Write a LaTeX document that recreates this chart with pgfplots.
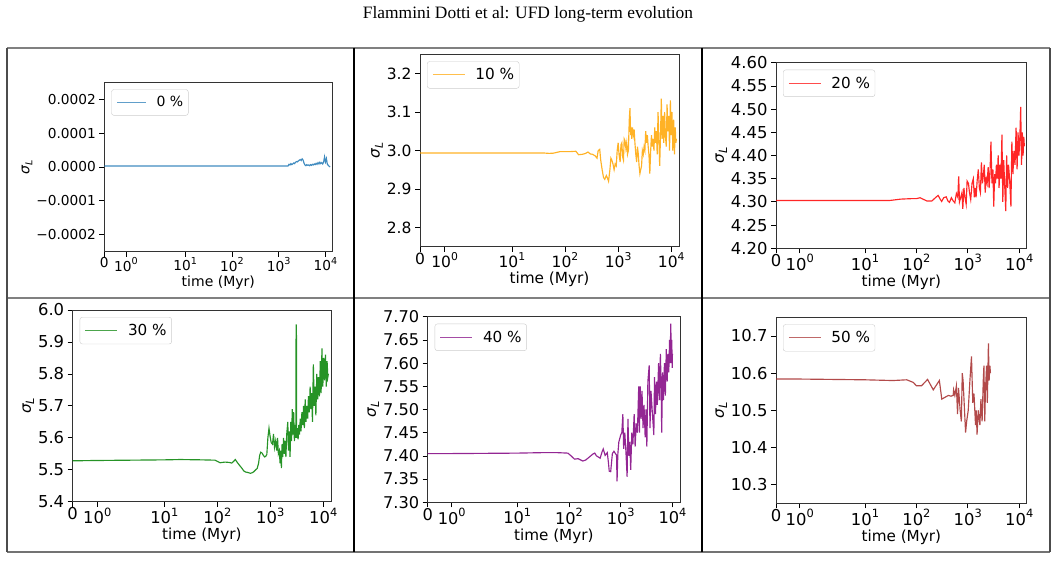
\documentclass[border=0pt]{standalone}
\usepackage{fontspec}
\setmainfont{DejaVu Sans}
\newfontfamily\titlefont{Liberation Serif}
\usepackage{pgfplots}
\pgfplotsset{compat=1.18}
\definecolor{mblue}{HTML}{1F77B4}
\definecolor{morange}{HTML}{FFA500}
\definecolor{mred}{HTML}{FF0000}
\definecolor{mgreen}{HTML}{008000}
\definecolor{mpurple}{HTML}{800080}
\definecolor{mbrown}{HTML}{A52A2A}
% symlog-like time axis: linear below 2.4 Myr, logarithmic above
\newcommand\symlog[1]{\begingroup\pgfkeys{/pgf/fpu=true,/pgf/fpu/output format=fixed}%
\pgfmathparse{min(#1,2.4)*1.111/2.4+ln(max(#1,2.4)/2.4)/2.302585}\pgfmathsmuggle\pgfmathresult\endgroup}
\def\supsz{10}
\def\subsz{10}
\newcommand\tp[1]{10\raisebox{0.45em}{\fontsize{\supsz}{\supsz}\selectfont #1}}
\newcommand\sigL{{\itshape σ\raisebox{-0.22em}{\fontsize{\subsz}{\subsz}\selectfont L}}}
\pgfplotsset{
  panel/.style={
    scale only axis, anchor=south west,
    x coord trafo/.code={\symlog{##1}},
    xmin=0, xmax=14000,
    xtick={0,1,10,100,1000,10000},
    xticklabels={0,\tp{0},\tp{1},\tp{2},\tp{3},\tp{4}},
    axis line style={draw=black!80, line width=0.8pt},
    tick align=outside, xtick pos=bottom, ytick pos=left,
    major tick length=5pt,
    every tick/.style={black, line width=0.8pt},
    minor tick num=0,
    /pgf/number format/assume math mode=true,
    /pgf/number format/fixed, /pgf/number format/fixed zerofill,
    scaled y ticks=false,
    xlabel={time (Myr)}, ylabel={\sigL},
    xticklabel style={yshift=2.5pt},
    xlabel style={yshift=2.5pt},
    ylabel style={yshift=-3pt},
    legend style={at={(rel axis cs:0,1)}, anchor=north west, xshift=7pt, yshift=-7pt,
      draw=black!20, rounded corners=2.5pt, fill=white,
      inner xsep=3pt, inner ysep=5pt},
    legend cell align=left,
    every axis plot/.append style={line width=1.15pt, mark=none, draw opacity=0.85},
  },
  fonts/.style n args={4}{
    tick label style={font=\def\supsz{#4}\fontsize{#1}{#1}\selectfont},
    label style={font=\def\subsz{#4}\fontsize{#2}{#2}\selectfont},
    legend style={font=\fontsize{#2}{#2}\selectfont},
    legend image code/.code={\draw[##1, line width=1.15pt, draw opacity=0.7] (0pt,0pt) -- (#3pt,0pt); \path (-2pt,0pt) (#3pt+8pt,0pt);},
  },
}
\begin{document}
\begin{tikzpicture}[x=1pt,y=1pt]
\path[use as bounding box] (0,0) rectangle (1057,560);
\node[font=\titlefont\fontsize{17.4}{20}\selectfont] at (528,546) {Flammini Dotti et al: UFD long-term evolution};
% table frame
\draw[black!50, line width=1.5pt] (7,512) -- (1050,512);
\draw[black!50, line width=1.5pt] (7,262) -- (1050,262);
\draw[black!55, line width=1.5pt] (7,8) -- (1050,8);
\draw[black!70, line width=1.2pt] (7,512) -- (7,8);
\draw[black!70, line width=1.2pt] (1050,512) -- (1050,8);
\draw[black, line width=1.1pt] (354,512) -- (354,8);
\draw[black, line width=1.1pt] (702,512) -- (702,8);

% ---- Panel 1: 0 %
\begin{axis}[panel, fonts={13.7}{14}{29}{9.6}, at={(104.3pt,308.3pt)}, width=228pt, height=169.4pt,
  ymin=-0.00025, ymax=0.00025,
  ytick={-0.0002,-0.0001,0,0.0001,0.0002},
  yticklabels={−0.0002,−0.0001,0.0000,0.0001,0.0002}]
\addplot[mblue] coordinates {
(0,0.000003) (1,0.000003) (10,0.000003) (100,0.000003) (1000,0.000003) (1585,0.000003)
(1660,0.000008) (1738,0.000006) (1820,0.000010) (1905,0.000007) (1995,0.000009)
(2089,0.000012) (2188,0.000010) (2291,0.000014) (2399,0.000016) (2512,0.000015)
(2630,0.000018) (2754,0.000020) (2884,0.000022) (3020,0.000019) (3162,0.000024)
(3311,0.000021) (3467,0.000012) (3631,0.000006) (3802,0.000004) (3981,0.000007)
(4169,0.000005) (4365,0.000006) (4571,0.000004) (4786,0.000007) (5012,0.000005)
(5248,0.000008) (5495,0.000006) (5754,0.000009) (6026,0.000007) (6310,0.000011)
(6607,0.000008) (6918,0.000013) (7244,0.000009) (7586,0.000014) (7943,0.000010)
(8318,0.000013) (8710,0.000009) (9120,0.000014) (9550,0.000030) (10000,0.000015)
(10471,0.000025) (10965,0.000008) (11482,0.000005) (12023,0.000002) (12589,0.000000)
};
\addlegendentry{0 \%}
\node[anchor=south west, font=\fontsize{6}{6}\selectfont, inner sep=1pt] at (rel axis cs:0,1) {+1};
\end{axis}

% ---- Panel 2: 10 %
\begin{axis}[panel, fonts={15.5}{15.3}{32}{10.8}, at={(420pt,313.3pt)}, width=259pt, height=192.4pt,
  ymin=2.75, ymax=3.25, ytick={2.8,2.9,3.0,3.1,3.2},
  /pgf/number format/precision=1]
\addplot[morange] coordinates {
(0,2.9935) (1,2.9935) (10,2.9935) (40,2.9935) (50,2.9925) (60,2.993) (80,2.997) (120,2.997)
(160,2.998) (180,2.989) (210,2.990) (240,2.992) (270,2.996) (300,2.991) (330,2.990) (370,2.986)
(400,2.980) (420,2.999) (450,3.003) (470,2.975) (500,2.950) (530,2.930) (560,2.925) (600,2.935)
(630,2.928) (660,2.920) (700,2.950) (730,2.980) (760,2.975) (800,2.965) (840,2.950) (880,2.965)
(920,2.960) (960,3.000) (1000,3.020) (1040,2.990) (1090,2.970) (1130,3.015) (1175,3.020)
(1210,2.985) (1260,2.975) (1300,3.030) (1350,3.025) (1400,3.005) (1450,3.020) (1500,2.990)
(1560,3.000) (1620,3.080) (1670,3.110) (1720,3.040) (1770,3.060) (1800,3.030) (1860,3.060)
(1930,3.040) (2000,3.055) (2070,3.020) (2150,2.990) (2230,2.970) (2310,3.010) (2400,2.990)
(2480,2.960) (2570,2.940) (2660,2.950) (2760,2.960) (2860,3.000) (2970,2.990) (3080,3.010)
(3190,3.000) (3300,3.050) (3430,3.020) (3550,3.040) (3680,3.010) (3800,2.990) (3950,2.940)
(4100,3.000) (4240,3.040) (4400,3.010) (4560,3.030) (4720,3.000) (4890,3.060) (5060,3.020)
(5250,3.050) (5440,2.990) (5640,3.100) (5850,3.030) (6060,2.960) (6280,3.040) (6500,3.135)
(6740,3.030) (6980,3.090) (7240,3.020) (7500,3.100) (7760,3.040) (8050,3.010) (8340,3.120)
(8650,3.050) (8960,3.090) (9290,3.000) (9630,3.130) (9970,3.040) (10330,3.100) (10700,3.000)
(11100,3.080) (11500,2.990) (11900,3.060) (12200,3.020) (12500,3.030)
};
\addlegendentry{10 \%}
\end{axis}

% ---- Panel 3: 20 %
\begin{axis}[panel, fonts={16.4}{15.2}{32}{11.4}, at={(776pt,311.7pt)}, width=250.7pt, height=185.6pt,
  ymin=4.2, ymax=4.6, ytick={4.20,4.25,...,4.61},
  /pgf/number format/precision=2]
\addplot[mred] coordinates {
(0,4.303) (1,4.303) (10,4.303) (30,4.303) (50,4.306) (80,4.307) (100,4.307) (118,4.309)
(140,4.305) (160,4.302) (200,4.302) (240,4.310) (265,4.314) (290,4.306) (310,4.301) (340,4.309)
(380,4.311) (410,4.302) (440,4.299) (480,4.309) (520,4.302) (560,4.298) (600,4.318) (640,4.310)
(665,4.355) (690,4.300) (730,4.310) (770,4.320) (800,4.285) (840,4.330) (880,4.310) (930,4.295)
(970,4.345) (1030,4.340) (1080,4.320) (1140,4.305) (1210,4.340) (1280,4.350) (1340,4.310)
(1400,4.330) (1450,4.310) (1520,4.345) (1600,4.370) (1680,4.330) (1760,4.320) (1840,4.385)
(1930,4.340) (2020,4.360) (2090,4.380) (2180,4.320) (2280,4.350) (2380,4.340) (2490,4.375)
(2600,4.330) (2700,4.360) (2820,4.430) (2950,4.340) (3080,4.370) (3200,4.290) (3330,4.360)
(3460,4.340) (3600,4.380) (3750,4.350) (3900,4.400) (4060,4.330) (4230,4.380) (4420,4.350)
(4620,4.445) (4800,4.300) (5000,4.390) (5200,4.340) (5480,4.280) (5700,4.400) (5950,4.330)
(6200,4.380) (6500,4.350) (6900,4.290) (7200,4.430) (7550,4.360) (7900,4.410) (8300,4.380)
(8700,4.460) (9100,4.370) (9500,4.450) (9900,4.400) (10300,4.440) (10700,4.505) (11100,4.380)
(11500,4.450) (11900,4.400) (12300,4.440) (12600,4.420)
};
\addlegendentry{20 \%}
\end{axis}

% ---- Panel 4: 30 %
\begin{axis}[panel, fonts={16.4}{15.2}{32}{11.4}, at={(72.7pt,58.3pt)}, width=258.3pt, height=191.7pt,
  ymin=5.4, ymax=6.0, ytick={5.4,5.5,...,6.01},
  /pgf/number format/precision=1]
\addplot[mgreen] coordinates {
(0,5.528) (1,5.529) (10,5.531) (20,5.532) (50,5.531) (90,5.530) (113,5.522) (140,5.524)
(165,5.523) (188,5.521) (205,5.527) (218,5.532) (240,5.522) (262,5.514) (290,5.505) (317,5.496)
(340,5.493) (366,5.492) (400,5.490) (425,5.489) (460,5.491) (490,5.494) (530,5.500) (565,5.504)
(600,5.520) (630,5.545) (660,5.555) (700,5.552) (740,5.545) (780,5.540) (820,5.542) (860,5.548)
(900,5.600) (945,5.630) (990,5.605) (1040,5.585) (1100,5.580) (1150,5.612) (1200,5.570)
(1260,5.590) (1320,5.560) (1370,5.600) (1420,5.550) (1480,5.560) (1530,5.520) (1580,5.560)
(1620,5.505) (1670,5.580) (1720,5.540) (1780,5.600) (1840,5.550) (1900,5.590) (1970,5.540)
(2040,5.610) (2140,5.650) (2200,5.560) (2280,5.620) (2360,5.540) (2440,5.650) (2520,5.590)
(2600,5.690) (2680,5.610) (2760,5.680) (2850,5.590) (2950,5.640) (3040,5.600) (3070,5.955)
(3110,5.950) (3150,5.600) (3250,5.630) (3350,5.595) (3450,5.640) (3550,5.610) (3680,5.660)
(3800,5.620) (3950,5.680) (4100,5.640) (4250,5.700) (4400,5.630) (4560,5.720) (4720,5.650)
(4900,5.700) (5080,5.660) (5250,5.730) (5450,5.680) (5650,5.760) (5850,5.690) (6050,5.740)
(6250,5.650) (6500,5.830) (6750,5.700) (7000,5.760) (7250,5.670) (7550,5.800) (7850,5.720)
(8150,5.790) (8450,5.730) (8800,5.840) (9100,5.740) (9450,5.880) (9800,5.760) (10200,5.850)
(10600,5.780) (11000,5.860) (11400,5.760) (11800,5.840) (12200,5.790) (12500,5.800)
};
\addlegendentry{30 \%}
\end{axis}

% ---- Panel 5: 40 %
\begin{axis}[panel, fonts={16.2}{15.2}{32}{11.3}, at={(427.7pt,57.7pt)}, width=252.3pt, height=185.6pt,
  ymin=7.3, ymax=7.7, ytick={7.30,7.35,...,7.71},
  /pgf/number format/precision=2]
\addplot[mpurple] coordinates {
(0,7.405) (1,7.405) (10,7.406) (30,7.407) (60,7.407) (95,7.406) (110,7.400) (128,7.393)
(150,7.394) (185,7.389) (210,7.391) (250,7.398) (290,7.404) (315,7.406) (340,7.400) (365,7.398)
(400,7.395) (440,7.410) (460,7.415) (500,7.401) (550,7.407) (580,7.385) (600,7.367) (640,7.366)
(690,7.405) (740,7.410) (790,7.405) (830,7.402) (850,7.345) (880,7.404) (920,7.430) (1000,7.445)
(1050,7.450) (1100,7.490) (1140,7.415) (1200,7.450) (1260,7.410) (1330,7.355) (1380,7.480)
(1440,7.400) (1500,7.430) (1560,7.370) (1640,7.450) (1720,7.425) (1820,7.490) (1900,7.420)
(2000,7.470) (2100,7.450) (2230,7.550) (2300,7.450) (2380,7.550) (2480,7.480) (2580,7.540)
(2700,7.460) (2820,7.510) (2970,7.440) (3080,7.500) (3200,7.420) (3350,7.560) (3550,7.595)
(3680,7.460) (3850,7.540) (4050,7.500) (4370,7.445) (4500,7.570) (4700,7.490) (4900,7.560)
(5100,7.510) (5400,7.600) (5600,7.520) (5850,7.620) (6050,7.550) (6200,7.450) (6450,7.580)
(6700,7.520) (7000,7.600) (7300,7.530) (7600,7.630) (7900,7.560) (8200,7.620) (8500,7.580)
(8800,7.650) (9000,7.600) (9300,7.685) (9500,7.600) (9700,7.650) (9900,7.590) (10000,7.620)
};
\addlegendentry{40 \%}
\end{axis}

% ---- Panel 6: 50 %
\begin{axis}[panel, fonts={16.4}{15.2}{32}{11.4}, at={(776pt,56.7pt)}, width=250.7pt, height=186pt,
  ymin=10.25, ymax=10.75, ytick={10.3,10.4,10.5,10.6,10.7},
  /pgf/number format/precision=1]
\addplot[mbrown] coordinates {
(0,10.584) (1,10.584) (10,10.582) (35,10.580) (65,10.582) (87,10.575) (100,10.566) (126,10.566)
(165,10.583) (213,10.555) (280,10.580) (312,10.530) (360,10.535) (420,10.540) (470,10.538)
(520,10.540) (530,10.555) (560,10.540) (600,10.565) (632,10.490) (660,10.560) (710,10.500)
(750,10.470) (780,10.600) (810,10.580) (850,10.520) (906,10.440) (950,10.470) (1020,10.500)
(1100,10.580) (1180,10.645) (1250,10.520) (1320,10.545) (1415,10.460) (1460,10.500)
(1515,10.435) (1600,10.500) (1720,10.460) (1800,10.530) (1900,10.470) (2000,10.580)
(2060,10.620) (2140,10.470) (2200,10.550) (2320,10.620) (2400,10.520) (2520,10.680)
(2600,10.580) (2690,10.620) (2760,10.600)
};
\addlegendentry{50 \%}
\end{axis}
\end{tikzpicture}
\end{document}
